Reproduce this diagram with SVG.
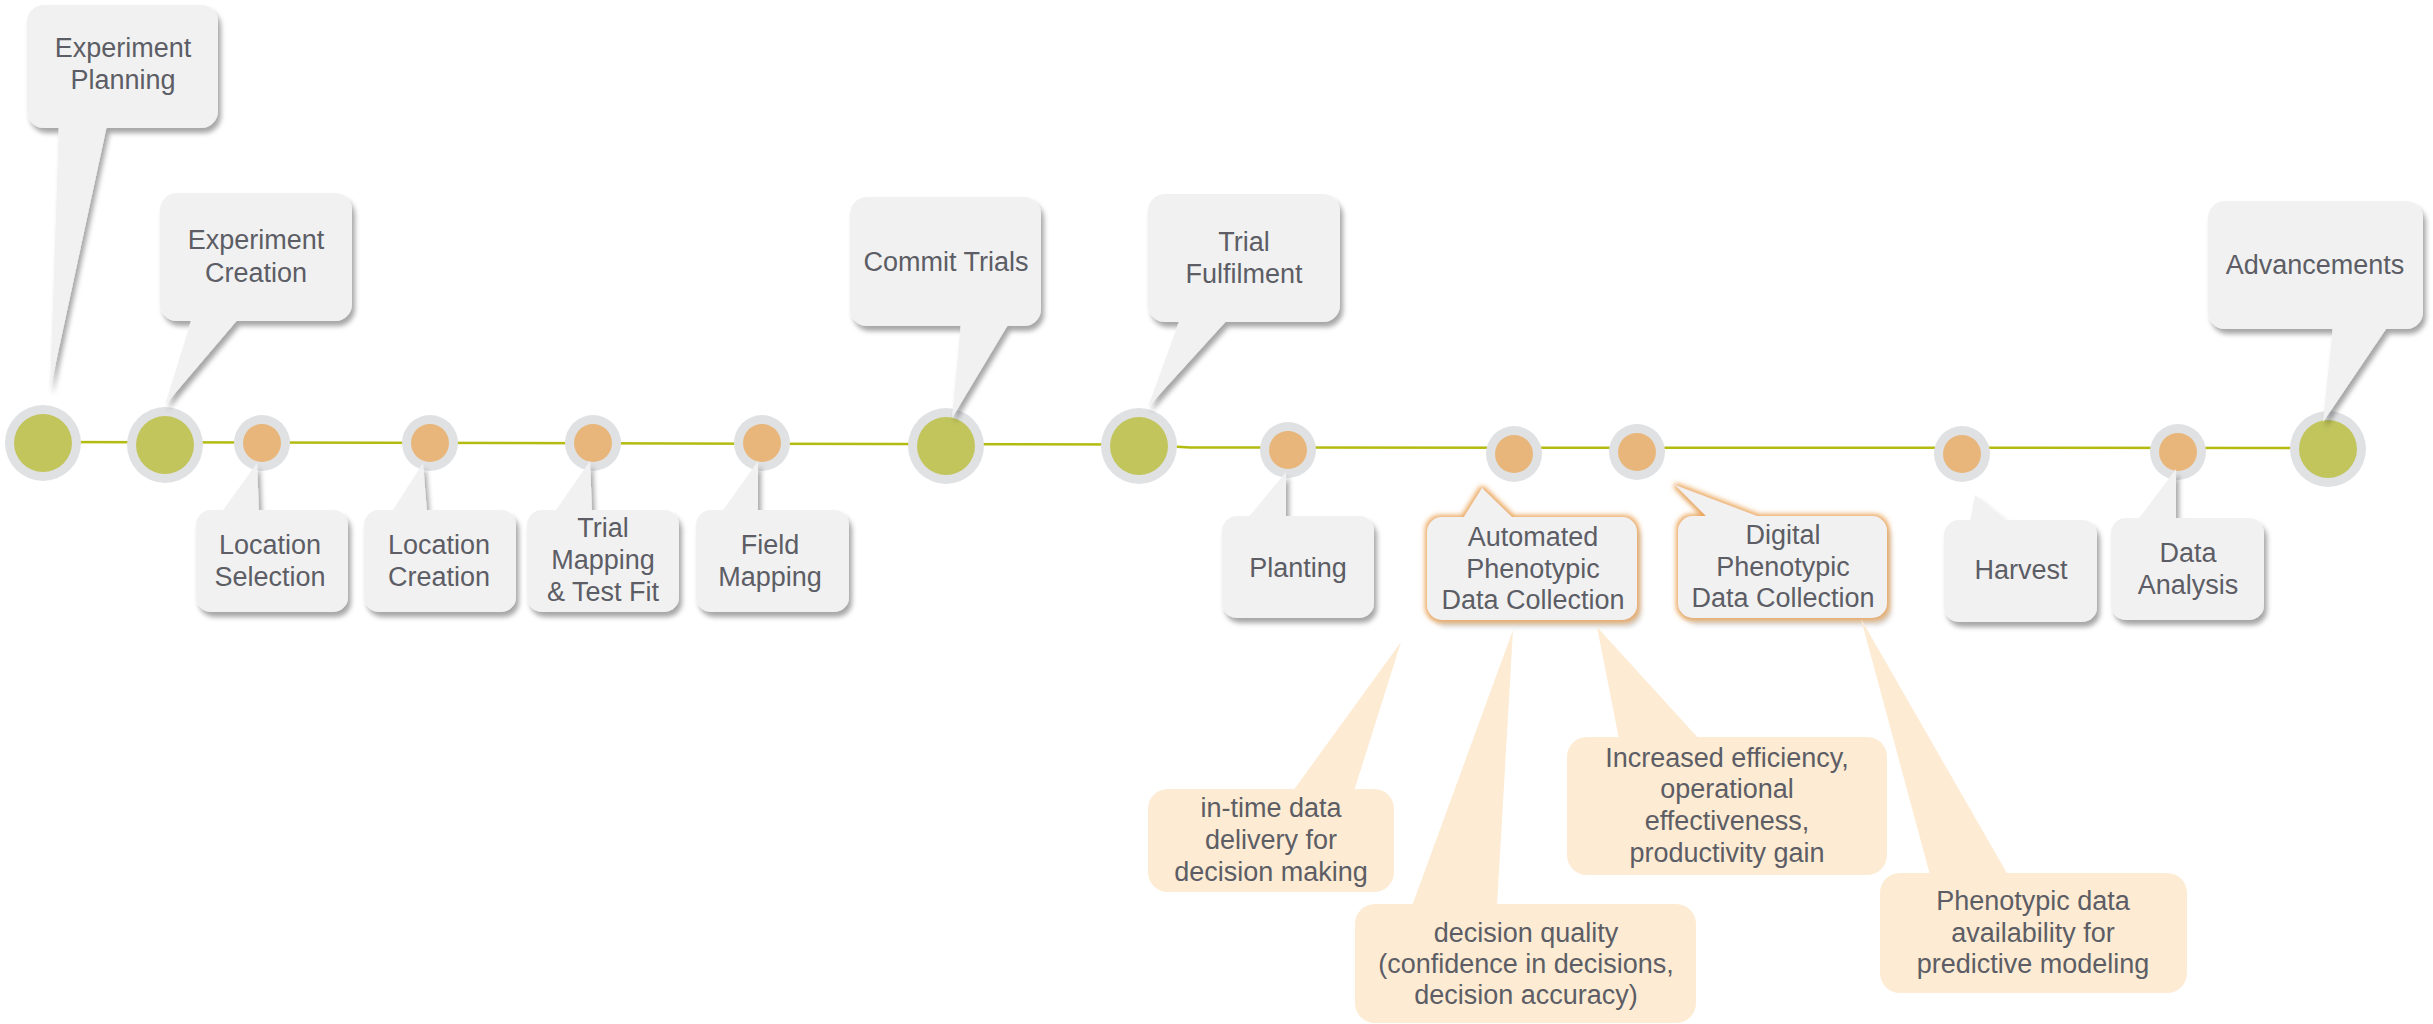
<svg xmlns="http://www.w3.org/2000/svg" width="2433" height="1024" viewBox="0 0 2433 1024">
<style>
  .t{font-family:"Liberation Sans",Arial,sans-serif;font-size:27px;fill:#5c5d65;text-anchor:middle}
  .box{fill:#f1f1f1}
  .peach{fill:#fdebd3}
  .ring{fill:#e0e1e3}
  .g{fill:#c1c55c}
  .o{fill:#e8b67a}
  .tl{fill:none;stroke:#b3bb10;stroke-width:2.5}
</style>
<defs>
  <filter id="sh" x="-20%" y="-20%" width="150%" height="150%">
    <feDropShadow dx="3" dy="5" stdDeviation="2.5" flood-color="#000" flood-opacity="0.35"/>
  </filter>
  <filter id="glow" x="-20%" y="-30%" width="150%" height="170%">
    <feMorphology in="SourceAlpha" operator="dilate" radius="2" result="d"/>
    <feGaussianBlur in="d" stdDeviation="2.5" result="b"/>
    <feFlood flood-color="#eaa457" flood-opacity="0.95"/>
    <feComposite in2="b" operator="in" result="gl"/>
    <feGaussianBlur in="SourceAlpha" stdDeviation="2.5" result="sb"/>
    <feOffset in="sb" dx="4" dy="6" result="so"/>
    <feFlood flood-color="#000" flood-opacity="0.3"/>
    <feComposite in2="so" operator="in" result="s"/>
    <feMerge><feMergeNode in="s"/><feMergeNode in="gl"/><feMergeNode in="SourceGraphic"/></feMerge>
  </filter>
</defs>
<rect width="2433" height="1024" fill="#fff"/>

<g id="connectors">
  <path class="tl" d="M43,442 L1139,444.5 L1190,447.5 L2328,448"/>
</g>

<g id="n-experiment-planning">
  <circle class="ring" cx="43" cy="443" r="38"/><circle class="g" cx="43" cy="443" r="29"/>
  <g filter="url(#sh)"><rect class="box" x="27" y="5" width="191" height="123" rx="17"/><polygon class="box" points="59,125 107,125 50,390"/></g>
  <text class="t" x="123" y="57">Experiment</text><text class="t" x="123" y="89">Planning</text>
</g>
<g id="n-experiment-creation">
  <circle class="ring" cx="165" cy="445" r="38"/><circle class="g" cx="165" cy="445" r="29"/>
  <g filter="url(#sh)"><rect class="box" x="160" y="193" width="192" height="128" rx="17"/><polygon class="box" points="192,318 239,318 165,405"/></g>
  <text class="t" x="256" y="249">Experiment</text><text class="t" x="256" y="282">Creation</text>
</g>
<g id="n-location-selection">
  <circle class="ring" cx="262" cy="443" r="28"/><circle class="o" cx="262" cy="443" r="19"/>
  <g filter="url(#sh)"><rect class="box" x="196" y="510" width="152" height="102" rx="15"/><polygon class="box" points="221,513 259,513 257,463"/></g>
  <text class="t" x="270" y="554">Location</text><text class="t" x="270" y="586">Selection</text>
</g>
<g id="n-location-creation">
  <circle class="ring" cx="430" cy="443" r="28"/><circle class="o" cx="430" cy="443" r="19"/>
  <g filter="url(#sh)"><rect class="box" x="364" y="510" width="152" height="102" rx="15"/><polygon class="box" points="391,513 427,513 423,463"/></g>
  <text class="t" x="439" y="554">Location</text><text class="t" x="439" y="586">Creation</text>
</g>
<g id="n-trial-mapping">
  <circle class="ring" cx="593" cy="443" r="28"/><circle class="o" cx="593" cy="443" r="19"/>
  <g filter="url(#sh)"><rect class="box" x="527" y="510" width="152" height="102" rx="15"/><polygon class="box" points="554,513 592,513 590,461"/></g>
  <text class="t" x="603" y="537">Trial</text><text class="t" x="603" y="569">Mapping</text><text class="t" x="603" y="601">&amp; Test Fit</text>
</g>
<g id="n-field-mapping">
  <circle class="ring" cx="762" cy="443" r="28"/><circle class="o" cx="762" cy="443" r="19"/>
  <g filter="url(#sh)"><rect class="box" x="696" y="510" width="153" height="102" rx="15"/><polygon class="box" points="721,513 758,513 758,461"/></g>
  <text class="t" x="770" y="554">Field</text><text class="t" x="770" y="586">Mapping</text>
</g>
<g id="n-commit-trials">
  <circle class="ring" cx="946" cy="446" r="38"/><circle class="g" cx="946" cy="446" r="29"/>
  <g filter="url(#sh)"><rect class="box" x="850" y="197" width="191" height="129" rx="17"/><polygon class="box" points="961,323 1009,323 952,418"/></g>
  <text class="t" x="946" y="271">Commit Trials</text>
</g>
<g id="n-trial-fulfilment">
  <circle class="ring" cx="1139" cy="446" r="38"/><circle class="g" cx="1139" cy="446" r="29"/>
  <g filter="url(#sh)"><rect class="box" x="1148" y="194" width="192" height="128" rx="17"/><polygon class="box" points="1180,319 1228,319 1148,407"/></g>
  <text class="t" x="1244" y="251">Trial</text><text class="t" x="1244" y="283">Fulfilment</text>
</g>
<g id="n-planting">
  <circle class="ring" cx="1288" cy="450" r="28"/><circle class="o" cx="1288" cy="450" r="19"/>
  <g filter="url(#sh)"><rect class="box" x="1222" y="516" width="152" height="102" rx="15"/><polygon class="box" points="1247,519 1286,519 1286,472"/></g>
  <text class="t" x="1298" y="577">Planting</text>
</g>
<g id="n-automated">
  <circle class="ring" cx="1514" cy="454" r="28"/><circle class="o" cx="1514" cy="454" r="19"/>
  <g filter="url(#glow)"><rect class="box" x="1427" y="517" width="210" height="103" rx="15"/><polygon class="box" points="1462,520 1515,520 1482,488"/></g>
  <text class="t" x="1533" y="546">Automated</text><text class="t" x="1533" y="578">Phenotypic</text><text class="t" x="1533" y="609">Data Collection</text>
</g>
<g id="n-digital">
  <circle class="ring" cx="1637" cy="452" r="28"/><circle class="o" cx="1637" cy="452" r="19"/>
  <g filter="url(#glow)"><rect class="box" x="1678" y="516" width="209" height="102" rx="15"/><polygon class="box" points="1709,519 1765,519 1675,485"/></g>
  <text class="t" x="1783" y="544">Digital</text><text class="t" x="1783" y="576">Phenotypic</text><text class="t" x="1783" y="607">Data Collection</text>
</g>
<g id="n-harvest">
  <circle class="ring" cx="1962" cy="454" r="28"/><circle class="o" cx="1962" cy="454" r="19"/>
  <g filter="url(#sh)"><rect class="box" x="1944" y="520" width="153" height="102" rx="15"/><polygon class="box" points="1970,523 2009,523 1975,495"/></g>
  <text class="t" x="2021" y="579">Harvest</text>
</g>
<g id="n-data-analysis">
  <circle class="ring" cx="2178" cy="452" r="28"/><circle class="o" cx="2178" cy="452" r="19"/>
  <g filter="url(#sh)"><rect class="box" x="2111" y="518" width="153" height="102" rx="15"/><polygon class="box" points="2137,521 2176,521 2176,469"/></g>
  <text class="t" x="2188" y="562">Data</text><text class="t" x="2188" y="594">Analysis</text>
</g>
<g id="n-advancements">
  <circle class="ring" cx="2328" cy="449" r="38"/><circle class="g" cx="2328" cy="449" r="29"/>
  <g filter="url(#sh)"><rect class="box" x="2208" y="201" width="215" height="128" rx="17"/><polygon class="box" points="2333,326 2388,326 2323,422"/></g>
  <text class="t" x="2315" y="274">Advancements</text>
</g>

<g id="n-in-time">
  <rect class="peach" x="1148" y="789" width="246" height="103" rx="20"/><polygon class="peach" points="1293,791 1354,791 1401,642"/>
  <text class="t" x="1271" y="817">in-time data</text><text class="t" x="1271" y="849">delivery for</text><text class="t" x="1271" y="881">decision making</text>
</g>
<g id="n-decision-quality">
  <rect class="peach" x="1355" y="904" width="341" height="119" rx="20"/><polygon class="peach" points="1412,906 1497,906 1513,630"/>
  <text class="t" x="1526" y="942">decision quality</text><text class="t" x="1526" y="973">(confidence in decisions,</text><text class="t" x="1526" y="1004">decision accuracy)</text>
</g>
<g id="n-efficiency">
  <rect class="peach" x="1567" y="737" width="320" height="138" rx="20"/><polygon class="peach" points="1619,739 1699,739 1597,627"/>
  <text class="t" x="1727" y="767">Increased efficiency,</text><text class="t" x="1727" y="798">operational</text><text class="t" x="1727" y="830">effectiveness,</text><text class="t" x="1727" y="862">productivity gain</text>
</g>
<g id="n-predictive">
  <rect class="peach" x="1880" y="873" width="307" height="120" rx="20"/><polygon class="peach" points="1930,875 2008,875 1861,619"/>
  <text class="t" x="2033" y="910">Phenotypic data</text><text class="t" x="2033" y="942">availability for</text><text class="t" x="2033" y="973">predictive modeling</text>
</g>
</svg>
